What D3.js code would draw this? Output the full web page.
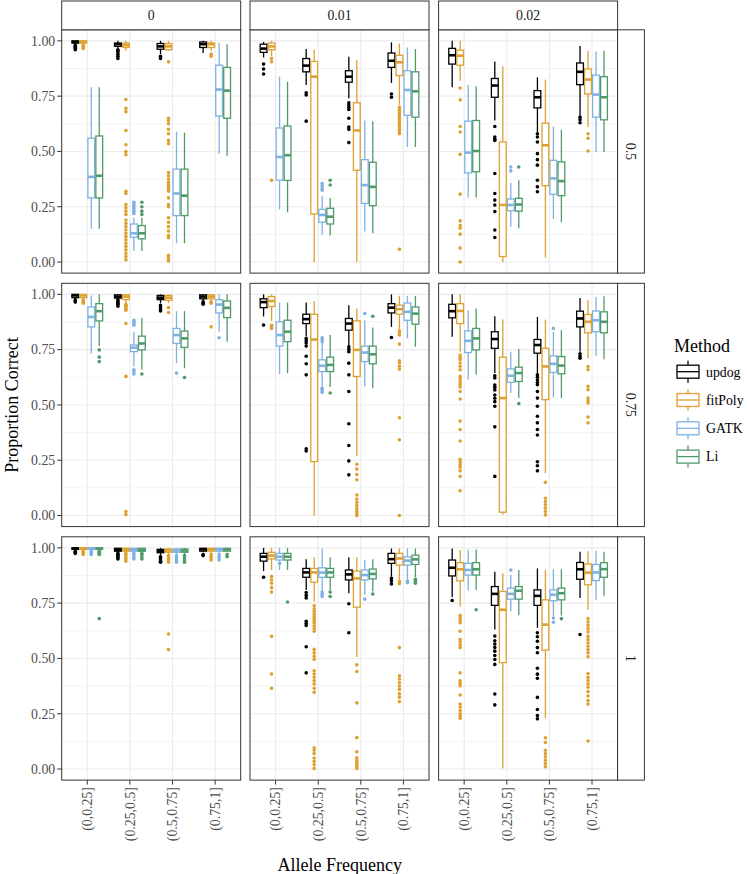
<!DOCTYPE html>
<html>
<head>
<meta charset="utf-8">
<script src="https://cdn.jsdelivr.net/npm/d3@7"></script>
<style>
  html, body { margin: 0; padding: 0; background: #fff; }
  svg text { font-family: "Liberation Serif", "DejaVu Serif", serif; }
</style>
</head>
<body>
<svg id="chart" width="747" height="874"></svg>
<script>
// ---------------- DATA ----------------
const categories = ["(0,0.25]", "(0.25,0.5]", "(0.5,0.75]", "(0.75,1]"];
const methods = ["updog", "fitPoly", "GATK", "Li"];
const methodColors = ["#000000", "#DEA02F", "#7FB1E3", "#4F9A69"];
const colFacets = ["0", "0.01", "0.02"];
const rowFacets = ["0.5", "0.75", "1"];
const yTicks = [0, 0.25, 0.5, 0.75, 1];
const yTickLabels = ["0.00", "0.25", "0.50", "0.75", "1.00"];
const yMinor = [0.125, 0.375, 0.625, 0.875];

// each entry: [lowerWhisker, q1, median, q3, upperWhisker, outliers]
// order: category 1 (updog, fitPoly, GATK, Li), category 2 ..., category 4
const boxes_r1_c1 = [
  [0.985, 0.99, 0.995, 1.0, 1.0, [0.98, 0.975, 0.97, 0.965, 0.96]],
  [0.985, 0.99, 0.995, 1.0, 1.0, [0.98, 0.975, 0.97, 0.965]],
  [0.15, 0.29, 0.385, 0.56, 0.79, []],
  [0.15, 0.29, 0.39, 0.57, 0.79, []],
  [0.965, 0.975, 0.985, 0.99, 1.0, [0.96, 0.955, 0.95, 0.94, 0.93, 0.92]],
  [0.955, 0.97, 0.98, 0.99, 1.0, [0.735, 0.695, 0.68, 0.595, 0.53, 0.5, 0.485, 0.32, 0.31, 0.26, 0.245, 0.23, 0.215, 0.19, 0.175, 0.16, 0.145, 0.13, 0.115, 0.1, 0.085, 0.07, 0.055, 0.04, 0.025, 0.01]],
  [0.05, 0.112, 0.13, 0.172, 0.2, [0.27, 0.26, 0.25, 0.24, 0.23, 0.22]],
  [0.05, 0.105, 0.13, 0.165, 0.2, [0.27, 0.25, 0.23, 0.215]],
  [0.94, 0.962, 0.975, 0.988, 1.0, [0.93, 0.92]],
  [0.955, 0.96, 0.975, 0.988, 1.0, [0.905, 0.65, 0.64, 0.625, 0.6, 0.58, 0.55, 0.535, 0.405, 0.39, 0.375, 0.36, 0.35, 0.34, 0.33, 0.32, 0.29, 0.26, 0.25, 0.2, 0.18, 0.16, 0.14, 0.12, 0.11, 0.03, 0.02, 0.01, 0.005]],
  [0.085, 0.21, 0.31, 0.42, 0.59, []],
  [0.085, 0.21, 0.30, 0.42, 0.585, []],
  [0.945, 0.97, 0.985, 0.995, 1.0, []],
  [0.955, 0.97, 0.985, 0.99, 1.0, [0.94, 0.93]],
  [0.49, 0.66, 0.78, 0.89, 0.99, []],
  [0.48, 0.65, 0.775, 0.88, 0.985, []]
];
const boxes_r1_c2 = [
  [0.925, 0.948, 0.965, 0.985, 0.995, [0.895, 0.873, 0.85]],
  [0.93, 0.96, 0.975, 0.99, 1.0, [0.92, 0.905, 0.37]],
  [0.238, 0.37, 0.475, 0.606, 0.838, []],
  [0.225, 0.369, 0.483, 0.615, 0.816, []],
  [0.8, 0.86, 0.888, 0.92, 0.963, [0.765, 0.755, 0.637]],
  [0.0, 0.217, 0.838, 0.907, 0.96, []],
  [0.123, 0.18, 0.213, 0.238, 0.3, [0.355, 0.345, 0.335, 0.325]],
  [0.12, 0.172, 0.205, 0.243, 0.29, [0.37, 0.348]],
  [0.74, 0.813, 0.838, 0.865, 0.928, [0.72, 0.71, 0.70, 0.69, 0.65, 0.61, 0.6, 0.54]],
  [0.0, 0.415, 0.595, 0.72, 0.913, []],
  [0.138, 0.265, 0.348, 0.463, 0.64, []],
  [0.13, 0.255, 0.34, 0.451, 0.636, []],
  [0.81, 0.88, 0.91, 0.945, 0.993, [0.76, 0.745]],
  [0.71, 0.843, 0.903, 0.935, 0.988, [0.70, 0.69, 0.68, 0.67, 0.66, 0.65, 0.64, 0.63, 0.62, 0.61, 0.6, 0.59, 0.58, 0.058]],
  [0.52, 0.663, 0.778, 0.865, 0.97, []],
  [0.52, 0.655, 0.772, 0.86, 0.963, []]
];
const boxes_r1_c3 = [
  [0.79, 0.895, 0.935, 0.966, 1.0, []],
  [0.82, 0.89, 0.933, 0.958, 1.0, [0.787, 0.733, 0.613, 0.588, 0.487, 0.307, 0.186, 0.165, 0.153, 0.126, 0.063, 0.0]],
  [0.292, 0.403, 0.495, 0.637, 0.802, []],
  [0.292, 0.408, 0.502, 0.64, 0.795, []],
  [0.64, 0.745, 0.798, 0.83, 0.907, [0.613, 0.565, 0.555, 0.55, 0.4, 0.31, 0.28, 0.258, 0.228, 0.145, 0.111]],
  [0.0, 0.025, 0.258, 0.543, 0.885, []],
  [0.16, 0.232, 0.258, 0.285, 0.358, [0.43, 0.412]],
  [0.153, 0.23, 0.26, 0.288, 0.37, [0.43]],
  [0.588, 0.697, 0.745, 0.775, 0.835, [0.58, 0.565, 0.543, 0.49, 0.463, 0.438, 0.37, 0.34, 0.318]],
  [0.02, 0.345, 0.528, 0.628, 0.825, []],
  [0.195, 0.306, 0.378, 0.46, 0.613, []],
  [0.18, 0.3, 0.366, 0.453, 0.598, []],
  [0.663, 0.802, 0.86, 0.9, 0.977, [0.655, 0.643, 0.63]],
  [0.61, 0.76, 0.825, 0.873, 0.955, [0.58, 0.56, 0.502]],
  [0.498, 0.655, 0.757, 0.845, 0.952, []],
  [0.498, 0.643, 0.745, 0.838, 0.955, []]
];
const boxes_r2_c1 = [
  [0.98, 0.985, 0.995, 1.0, 1.0, [0.975, 0.97, 0.965]],
  [0.98, 0.985, 0.995, 1.0, 1.0, [0.975, 0.97, 0.965, 0.96]],
  [0.733, 0.853, 0.898, 0.943, 0.995, []],
  [0.766, 0.88, 0.924, 0.958, 1.0, [0.749, 0.716, 0.696]],
  [0.98, 0.983, 0.99, 0.998, 1.0, [0.976, 0.97, 0.965, 0.96, 0.955, 0.946]],
  [0.96, 0.976, 0.99, 0.998, 1.0, [0.955, 0.95, 0.945, 0.94, 0.935, 0.928, 0.868, 0.629, 0.018, 0.005]],
  [0.674, 0.741, 0.759, 0.771, 0.831, [0.883, 0.875, 0.868, 0.86, 0.659, 0.65, 0.64]],
  [0.659, 0.749, 0.778, 0.811, 0.894, [0.64]],
  [0.96, 0.976, 0.985, 0.995, 1.0, [0.95, 0.94, 0.93, 0.925]],
  [0.96, 0.973, 0.985, 0.995, 1.0, [0.94, 0.918]],
  [0.689, 0.778, 0.816, 0.846, 0.924, [0.644]],
  [0.666, 0.76, 0.801, 0.834, 0.924, [0.624]],
  [0.97, 0.98, 0.99, 0.998, 1.0, [0.966, 0.96, 0.955]],
  [0.97, 0.98, 0.99, 0.998, 1.0, [0.966, 0.96, 0.853]],
  [0.831, 0.916, 0.954, 0.976, 1.0, [0.804]],
  [0.786, 0.895, 0.939, 0.97, 1.0, []]
];
const boxes_r2_c2 = [
  [0.9, 0.94, 0.965, 0.98, 1.0, [0.861]],
  [0.88, 0.945, 0.97, 0.99, 1.0, [0.86, 0.853, 0.846]],
  [0.64, 0.766, 0.816, 0.876, 0.963, []],
  [0.644, 0.786, 0.831, 0.883, 0.963, []],
  [0.81, 0.868, 0.888, 0.91, 0.963, [0.8, 0.79, 0.78, 0.766, 0.72, 0.686, 0.636, 0.302, 0.292]],
  [0.0, 0.244, 0.796, 0.91, 0.97, []],
  [0.584, 0.651, 0.677, 0.704, 0.781, [0.804, 0.795, 0.786, 0.576, 0.566, 0.557]],
  [0.581, 0.651, 0.681, 0.716, 0.816, [0.554]],
  [0.766, 0.838, 0.868, 0.891, 0.951, [0.763, 0.752, 0.741, 0.689, 0.636, 0.561, 0.415, 0.317, 0.247, 0.184]],
  [0.269, 0.629, 0.749, 0.88, 0.936, [0.232, 0.21, 0.185, 0.162, 0.093, 0.075, 0.06, 0.045, 0.03, 0.018, 0.008, 0.0]],
  [0.584, 0.696, 0.737, 0.766, 0.883, [0.913]],
  [0.576, 0.686, 0.729, 0.766, 0.85, [0.901]],
  [0.853, 0.916, 0.94, 0.958, 1.0, [0.805]],
  [0.84, 0.91, 0.933, 0.951, 0.993, [0.834, 0.825, 0.816, 0.775, 0.7, 0.69, 0.675, 0.662, 0.442, 0.343, 0.0]],
  [0.801, 0.883, 0.921, 0.961, 0.993, []],
  [0.763, 0.865, 0.913, 0.943, 0.993, []]
];
const boxes_r2_c3 = [
  [0.808, 0.894, 0.924, 0.955, 1.0, []],
  [0.741, 0.868, 0.925, 0.958, 1.0, [0.726, 0.715, 0.705, 0.69, 0.675, 0.659, 0.629, 0.617, 0.605, 0.593, 0.581, 0.561, 0.527, 0.427, 0.389, 0.337, 0.254, 0.242, 0.23, 0.218, 0.202, 0.177, 0.112]],
  [0.614, 0.737, 0.79, 0.835, 0.928, []],
  [0.636, 0.749, 0.801, 0.846, 0.936, []],
  [0.644, 0.756, 0.798, 0.831, 0.901, [0.632, 0.622, 0.59, 0.58, 0.568, 0.545, 0.53, 0.515, 0.494, 0.401, 0.177]],
  [0.004, 0.015, 0.531, 0.716, 0.886, []],
  [0.554, 0.602, 0.632, 0.663, 0.741, []],
  [0.531, 0.606, 0.644, 0.671, 0.753, [0.506]],
  [0.644, 0.734, 0.771, 0.796, 0.898, [0.636, 0.625, 0.613, 0.601, 0.591, 0.561, 0.531, 0.494, 0.449, 0.419, 0.389, 0.364, 0.243, 0.225, 0.202]],
  [0.192, 0.524, 0.674, 0.756, 0.886, [0.15, 0.078, 0.063, 0.048, 0.033, 0.018, 0.003]],
  [0.534, 0.647, 0.686, 0.722, 0.83, [0.846]],
  [0.531, 0.641, 0.678, 0.719, 0.838, []],
  [0.741, 0.853, 0.891, 0.924, 0.984, [0.731, 0.72, 0.711]],
  [0.711, 0.826, 0.876, 0.909, 0.973, [0.674, 0.659, 0.584, 0.569, 0.531, 0.52, 0.509, 0.445, 0.419]],
  [0.722, 0.831, 0.883, 0.925, 0.988, []],
  [0.707, 0.826, 0.876, 0.921, 0.991, []]
];
const boxes_r3_c1 = [
  [0.99, 0.993, 0.998, 1.0, 1.0, [0.985, 0.98, 0.975]],
  [0.99, 0.993, 0.998, 1.0, 1.0, [0.985, 0.98, 0.975, 0.97]],
  [0.99, 0.993, 0.998, 1.0, 1.0, [0.985, 0.98, 0.975, 0.97]],
  [0.99, 0.993, 0.998, 1.0, 1.0, [0.985, 0.98, 0.975, 0.97, 0.68]],
  [0.98, 0.985, 0.99, 0.998, 1.0, [0.975, 0.97, 0.965, 0.96, 0.955, 0.95]],
  [0.98, 0.985, 0.99, 0.998, 1.0, [0.975, 0.97, 0.96, 0.95, 0.94]],
  [0.98, 0.985, 0.99, 0.998, 1.0, [0.975, 0.97, 0.96, 0.95]],
  [0.98, 0.985, 0.99, 0.998, 1.0, [0.975, 0.97, 0.96, 0.95]],
  [0.965, 0.978, 0.985, 0.993, 1.0, [0.96, 0.955, 0.95, 0.94, 0.935]],
  [0.97, 0.98, 0.988, 0.995, 1.0, [0.965, 0.955, 0.945, 0.935, 0.61, 0.54]],
  [0.97, 0.98, 0.988, 0.995, 1.0, [0.965, 0.955, 0.945, 0.935]],
  [0.97, 0.98, 0.988, 0.995, 1.0, [0.965, 0.955, 0.945, 0.935]],
  [0.98, 0.985, 0.993, 0.998, 1.0, [0.97, 0.965]],
  [0.975, 0.985, 0.993, 0.998, 1.0, [0.97, 0.96, 0.955, 0.945]],
  [0.975, 0.985, 0.993, 0.998, 1.0, [0.97, 0.96, 0.955, 0.945]],
  [0.98, 0.985, 0.993, 0.998, 1.0, [0.97, 0.96]]
];
const boxes_r3_c2 = [
  [0.895, 0.94, 0.96, 0.975, 1.0, [0.867]],
  [0.9, 0.95, 0.965, 0.98, 1.0, [0.87, 0.855, 0.84, 0.82, 0.8, 0.6, 0.43, 0.365]],
  [0.9, 0.945, 0.96, 0.975, 1.0, [0.93]],
  [0.9, 0.945, 0.96, 0.975, 1.0, [0.755]],
  [0.81, 0.867, 0.889, 0.907, 0.948, [0.798, 0.785, 0.773, 0.668, 0.658, 0.649, 0.553, 0.435]],
  [0.758, 0.845, 0.889, 0.907, 0.957, [0.738, 0.725, 0.712, 0.7, 0.69, 0.68, 0.67, 0.66, 0.648, 0.635, 0.623, 0.541, 0.525, 0.51, 0.496, 0.444, 0.43, 0.415, 0.4, 0.385, 0.365, 0.347, 0.096, 0.085, 0.07, 0.05, 0.035, 0.02, 0.003]],
  [0.807, 0.867, 0.888, 0.91, 0.997, [0.8, 0.79, 0.78]],
  [0.81, 0.867, 0.889, 0.907, 0.957, [0.8, 0.78]],
  [0.795, 0.855, 0.88, 0.9, 0.957, [0.747, 0.616]],
  [0.507, 0.732, 0.862, 0.895, 0.957, [0.471, 0.441, 0.299, 0.142, 0.078, 0.051, 0.04, 0.03, 0.02, 0.01, 0.003]],
  [0.788, 0.855, 0.877, 0.9, 0.945, [0.768]],
  [0.803, 0.86, 0.882, 0.904, 0.949, [0.791]],
  [0.87, 0.93, 0.949, 0.975, 0.997, [0.862, 0.85, 0.837]],
  [0.855, 0.922, 0.952, 0.975, 0.997, [0.848, 0.838, 0.549, 0.421, 0.407, 0.39, 0.375, 0.36, 0.34, 0.325, 0.305]],
  [0.858, 0.922, 0.942, 0.96, 0.997, [0.85, 0.843]],
  [0.867, 0.925, 0.948, 0.967, 0.997, [0.858, 0.849, 0.84]]
];
const boxes_r3_c3 = [
  [0.777, 0.873, 0.91, 0.945, 0.997, [0.762]],
  [0.735, 0.851, 0.903, 0.933, 0.99, [0.695, 0.685, 0.673, 0.661, 0.623, 0.586, 0.574, 0.561, 0.549, 0.435, 0.399, 0.388, 0.377, 0.335, 0.294, 0.28, 0.265, 0.25, 0.24, 0.23]],
  [0.807, 0.877, 0.9, 0.93, 0.993, []],
  [0.81, 0.877, 0.903, 0.933, 0.993, [0.72]],
  [0.631, 0.74, 0.792, 0.825, 0.892, [0.601, 0.58, 0.565, 0.55, 0.533, 0.513, 0.495, 0.473, 0.339, 0.29]],
  [0.003, 0.481, 0.72, 0.803, 0.885, []],
  [0.713, 0.768, 0.792, 0.818, 0.877, [0.9]],
  [0.695, 0.768, 0.806, 0.825, 0.9, []],
  [0.638, 0.74, 0.783, 0.81, 0.907, [0.616, 0.598, 0.578, 0.549, 0.526, 0.456, 0.429, 0.41, 0.324, 0.269, 0.242, 0.227]],
  [0.23, 0.538, 0.653, 0.765, 0.9, [0.141, 0.12, 0.085, 0.07, 0.055, 0.04, 0.025, 0.01]],
  [0.691, 0.761, 0.788, 0.81, 0.903, [0.683, 0.664]],
  [0.694, 0.765, 0.795, 0.818, 0.903, [0.68]],
  [0.773, 0.858, 0.903, 0.934, 0.982, [0.608]],
  [0.72, 0.833, 0.888, 0.927, 0.985, [0.68, 0.665, 0.65, 0.635, 0.62, 0.6, 0.585, 0.57, 0.555, 0.54, 0.525, 0.508, 0.432, 0.415, 0.4, 0.385, 0.37, 0.35, 0.33, 0.31, 0.294, 0.127]],
  [0.765, 0.852, 0.889, 0.925, 0.987, []],
  [0.783, 0.867, 0.904, 0.933, 0.982, []]
];
const panelBoxes = [
  [boxes_r1_c1, boxes_r1_c2, boxes_r1_c3],
  [boxes_r2_c1, boxes_r2_c2, boxes_r2_c3],
  [boxes_r3_c1, boxes_r3_c2, boxes_r3_c3]
];

// ---------------- LAYOUT ----------------
const svg = d3.select("#chart");
const W = 747, H = 874;
svg.append("rect").attr("width", W).attr("height", H).attr("fill", "#fff");

const panelX = [61.7, 250.0, 438.6];
const panelW = 179.0;
const panelY = [29.8, 283.3, 536.8];
const panelH = 243.3;
const stripTop = 1.0, stripH = 28.8;
const rStripX = panelX[2] + panelW, rStripW = 26.8;
const fontFam = '"Liberation Serif", "DejaVu Serif", serif';
const gridCol = "#EBEBEB", borderCol = "#333333";
const tickFont = 13.8, titleFont = 18;

const y = d3.scaleLinear().domain([-0.05, 1.05]);

for (let r = 0; r < 3; r++) {
  for (let c = 0; c < 3; c++) {
    const px = panelX[c], py = panelY[r];
    const g = svg.append("g").attr("transform", `translate(${px},${py})`);
    const x = d3.scaleBand().domain(categories).range([0, panelW]).paddingInner(0).paddingOuter(0.1);
    const step = x.bandwidth();
    const dodge = d3.scaleBand().domain(methods).range([-0.375 * step, 0.375 * step]).padding(0);
    const bw = dodge.bandwidth();
    const yy = y.copy().range([panelH, 0]);

    g.append("rect").attr("width", panelW).attr("height", panelH).attr("fill", "#fff");
    g.selectAll(".ymin").data(yMinor).join("line")
      .attr("x1", 0).attr("x2", panelW)
      .attr("y1", d => yy(d)).attr("y2", d => yy(d))
      .attr("stroke", gridCol).attr("stroke-width", 0.6);
    g.selectAll(".ymaj").data(yTicks).join("line")
      .attr("x1", 0).attr("x2", panelW)
      .attr("y1", d => yy(d)).attr("y2", d => yy(d))
      .attr("stroke", gridCol).attr("stroke-width", 1.1);
    g.selectAll(".xmaj").data(categories).join("line")
      .attr("x1", d => x(d) + step / 2).attr("x2", d => x(d) + step / 2)
      .attr("y1", 0).attr("y2", panelH)
      .attr("stroke", gridCol).attr("stroke-width", 1.1);

    const data = panelBoxes[r][c].map((b, i) => ({
      cat: categories[Math.floor(i / 4)], m: methods[i % 4], col: methodColors[i % 4],
      lo: b[0], q1: b[1], med: b[2], q3: b[3], hi: b[4], out: b[5]
    }));
    data.forEach(d => {
      const cx = x(d.cat) + step / 2 + dodge(d.m) + bw / 2;
      const bg = g.append("g");
      bg.selectAll("circle").data(d.out).join("circle")
        .attr("cx", cx).attr("cy", v => yy(v)).attr("r", 1.8)
        .attr("fill", d.col);
      bg.append("line").attr("x1", cx).attr("x2", cx)
        .attr("y1", yy(d.hi)).attr("y2", yy(d.q3))
        .attr("stroke", d.col).attr("stroke-width", 1.3);
      bg.append("line").attr("x1", cx).attr("x2", cx)
        .attr("y1", yy(d.q1)).attr("y2", yy(d.lo))
        .attr("stroke", d.col).attr("stroke-width", 1.3);
      const bx = cx - bw / 2 + 0.6, bww = bw - 1.2;
      bg.append("rect").attr("x", bx).attr("width", bww)
        .attr("y", yy(d.q3)).attr("height", Math.max(0.5, yy(d.q1) - yy(d.q3)))
        .attr("fill", "#fff").attr("stroke", d.col).attr("stroke-width", 1.3);
      bg.append("line").attr("x1", bx).attr("x2", bx + bww)
        .attr("y1", yy(d.med)).attr("y2", yy(d.med))
        .attr("stroke", d.col).attr("stroke-width", 2.6);
    });

    g.append("rect").attr("width", panelW).attr("height", panelH)
      .attr("fill", "none").attr("stroke", borderCol).attr("stroke-width", 1);

    if (c === 0) {
      const ax = g.append("g");
      yTicks.forEach((t, i) => {
        ax.append("line").attr("x1", -4.5).attr("x2", 0).attr("y1", yy(t)).attr("y2", yy(t))
          .attr("stroke", borderCol).attr("stroke-width", 1);
        ax.append("text").attr("x", -6.5).attr("y", yy(t)).attr("dy", "0.35em")
          .attr("text-anchor", "end").attr("font-size", tickFont).attr("fill", "#4D4D4D")
          .attr("font-family", fontFam).text(yTickLabels[i]);
      });
    }
    if (r === 2) {
      categories.forEach(cat => {
        const tx = x(cat) + step / 2;
        g.append("line").attr("x1", tx).attr("x2", tx).attr("y1", panelH).attr("y2", panelH + 4.5)
          .attr("stroke", borderCol).attr("stroke-width", 1);
        g.append("text")
          .attr("transform", `translate(${tx},${panelH + 7}) rotate(-90)`)
          .attr("dy", "0.35em").attr("text-anchor", "end")
          .attr("font-size", tickFont).attr("fill", "#4D4D4D").attr("font-family", fontFam)
          .text(cat);
      });
    }
  }
}

colFacets.forEach((lab, c) => {
  svg.append("rect").attr("x", panelX[c]).attr("y", stripTop).attr("width", panelW).attr("height", stripH)
    .attr("fill", "#fff").attr("stroke", borderCol).attr("stroke-width", 1);
  svg.append("text").attr("x", panelX[c] + panelW / 2).attr("y", stripTop + stripH / 2)
    .attr("dy", "0.35em").attr("text-anchor", "middle").attr("font-size", tickFont)
    .attr("fill", "#1A1A1A").attr("font-family", fontFam).text(lab);
});
rowFacets.forEach((lab, r) => {
  svg.append("rect").attr("x", rStripX).attr("y", panelY[r]).attr("width", rStripW).attr("height", panelH)
    .attr("fill", "#fff").attr("stroke", borderCol).attr("stroke-width", 1);
  svg.append("text")
    .attr("transform", `translate(${rStripX + rStripW / 2},${panelY[r] + panelH / 2}) rotate(90)`)
    .attr("dy", "0.35em").attr("text-anchor", "middle").attr("font-size", tickFont)
    .attr("fill", "#1A1A1A").attr("font-family", fontFam).text(lab);
});

svg.append("text").attr("x", (panelX[0] + panelX[2] + panelW) / 2).attr("y", 871)
  .attr("text-anchor", "middle").attr("font-size", titleFont).attr("fill", "#000")
  .attr("font-family", fontFam).text("Allele Frequency");
svg.append("text")
  .attr("transform", `translate(18,${(panelY[0] + panelY[2] + panelH) / 2}) rotate(-90)`)
  .attr("text-anchor", "middle").attr("font-size", titleFont).attr("fill", "#000")
  .attr("font-family", fontFam).text("Proportion Correct");

const lg = svg.append("g").attr("transform", "translate(674,0)");
lg.append("text").attr("x", 0).attr("y", 352).attr("font-size", titleFont)
  .attr("font-family", fontFam).attr("fill", "#000").text("Method");
methods.forEach((m, i) => {
  const cy = 371.7 + i * 28.3;
  const col = methodColors[i];
  const kx = 3, kw = 22, cx = kx + kw / 2;
  lg.append("line").attr("x1", cx).attr("x2", cx).attr("y1", cy - 11).attr("y2", cy + 11)
    .attr("stroke", col).attr("stroke-width", 1.3);
  lg.append("rect").attr("x", kx).attr("y", cy - 6.5).attr("width", kw).attr("height", 13)
    .attr("fill", "#fff").attr("stroke", col).attr("stroke-width", 1.3);
  lg.append("line").attr("x1", kx).attr("x2", kx + kw).attr("y1", cy).attr("y2", cy)
    .attr("stroke", col).attr("stroke-width", 1.3);
  lg.append("text").attr("x", 32).attr("y", cy).attr("dy", "0.35em").attr("font-size", tickFont)
    .attr("font-family", fontFam).attr("fill", "#000").text(m);
});
</script>
</body>
</html>
